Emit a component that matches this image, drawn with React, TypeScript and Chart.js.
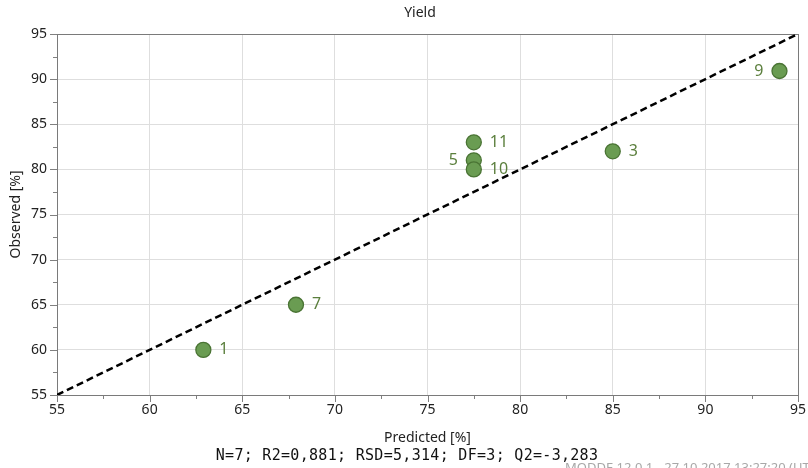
import React, { useEffect, useRef } from "react";
import { Chart, registerables } from "chart.js";

Chart.register(...registerables);

const pointLabels = ["1", "7", "11", "5", "10", "3", "9"];
const predicted = [62.9, 67.9, 77.5, 77.5, 77.5, 85.0, 94.0];
const observed = [60.0, 65.0, 83.0, 81.0, 80.0, 82.0, 90.9];
const labelSide = ["right", "right", "right", "left", "right", "right", "left"];
const refLine = [55, 95];
const axisMin = 55;
const axisMax = 95;
const majorStep = 5;
const titleText = "Yield";
const xTitle = "Predicted [%]";
const yTitle = "Observed [%]";
const footerText = "N=7; R2=0,881; RSD=5,314; DF=3; Q2=-3,283";
const stampText = "MODDE 12.0.1 - 27.10.2017 13:27:20 (UTC+01:00)";

const FONT = "'Noto Sans', 'Open Sans', sans-serif";

const decorPlugin = {
  id: "decor",
  beforeDatasetsDraw(chart: any) {
    const { ctx, chartArea: a, scales } = chart;
    const xs = scales.x;
    const ys = scales.y;
    ctx.save();
    ctx.strokeStyle = "#808080";
    ctx.lineWidth = 1;
    for (let v = axisMin; v <= axisMax + 0.001; v += majorStep / 2) {
      const major = Math.abs(v / majorStep - Math.round(v / majorStep)) < 1e-6;
      const len = major ? 7 : 4;
      const px = Math.round(xs.getPixelForValue(v)) + 0.5;
      ctx.beginPath();
      ctx.moveTo(px, a.bottom);
      ctx.lineTo(px, a.bottom + len);
      ctx.stroke();
      const py = Math.round(ys.getPixelForValue(v)) + 0.5;
      ctx.beginPath();
      ctx.moveTo(a.left, py);
      ctx.lineTo(a.left - len, py);
      ctx.stroke();
    }
    ctx.strokeStyle = "#7a7a7a";
    ctx.strokeRect(Math.round(a.left) + 0.5, Math.round(a.top) + 0.5, Math.round(a.right - a.left), Math.round(a.bottom - a.top));
    ctx.restore();
  },
  afterDraw(chart: any) {
    const { ctx, chartArea: a } = chart;
    const meta = chart.getDatasetMeta(1);
    ctx.save();
    ctx.font = `16px ${FONT}`;
    ctx.fillStyle = "#5b7f3d";
    ctx.textBaseline = "middle";
    meta.data.forEach((el: any, i: number) => {
      if (labelSide[i] === "left") {
        ctx.textAlign = "right";
        ctx.fillText(pointLabels[i], el.x - 16, el.y);
      } else {
        ctx.textAlign = "left";
        ctx.fillText(pointLabels[i], el.x + 16, el.y);
      }
    });
    ctx.fillStyle = "#222";
    ctx.font = `14px ${FONT}`;
    ctx.textAlign = "center";
    ctx.textBaseline = "middle";
    ctx.fillText(titleText, 420, 13);
    ctx.fillText(xTitle, (a.left + a.right) / 2, 438);
    ctx.save();
    ctx.translate(16, (a.top + a.bottom) / 2);
    ctx.rotate(-Math.PI / 2);
    ctx.fillText(yTitle, 0, 0);
    ctx.restore();
    ctx.font = `15px 'DejaVu Sans Mono', monospace`;
    (ctx as any).letterSpacing = "0.3px";
    ctx.fillStyle = "#111";
    ctx.fillText(footerText, 407, 456);
    (ctx as any).letterSpacing = "0px";
    ctx.font = `13px ${FONT}`;
    ctx.fillStyle = "#a8a8a8";
    ctx.textAlign = "left";
    ctx.textBaseline = "top";
    ctx.fillText(stampText, 565, 462);
    ctx.restore();
  },
};

export default function App() {
  const ref = useRef<HTMLCanvasElement | null>(null);
  useEffect(() => {
    if (!ref.current) return;
    const tickFont = { family: FONT, size: 14 };
    const chart = new Chart(ref.current, {
      type: "scatter",
      data: {
        datasets: [
          {
            type: "line",
            data: refLine.map((v) => ({ x: v, y: v })),
            borderColor: "#000",
            borderWidth: 2.5,
            borderDash: [7, 4],
            pointRadius: 0,
            fill: false,
            order: 2,
          } as any,
          {
            data: predicted.map((x, i) => ({ x, y: observed[i] })),
            backgroundColor: "#6a9c52",
            borderColor: "#4a7434",
            borderWidth: 1.3,
            pointRadius: 7.5,
            pointHoverRadius: 7.5,
            order: 1,
          },
        ],
      },
      options: {
        responsive: false,
        animation: false,
        events: [],
        layout: { padding: { top: 34, right: 10, left: 0, bottom: 0 } },
        plugins: { legend: { display: false }, tooltip: { enabled: false }, title: { display: false } },
        scales: {
          x: {
            type: "linear",
            min: axisMin,
            max: axisMax,
            afterFit: (s: any) => { s.height = 73; s.paddingRight = 0; s.paddingLeft = 0; },
            ticks: { stepSize: majorStep, color: "#222", font: tickFont, padding: 7, maxRotation: 0 },
            grid: { color: "#dedede", drawTicks: false },
            border: { display: false },
          },
          y: {
            type: "linear",
            min: axisMin,
            max: axisMax,
            afterFit: (s: any) => { s.width = 57; s.paddingTop = 0; s.paddingBottom = 0; },
            ticks: { stepSize: majorStep, color: "#222", font: tickFont, padding: 10 },
            grid: { color: "#dedede", drawTicks: false },
            border: { display: false },
          },
        },
      },
      plugins: [decorPlugin],
    });
    return () => chart.destroy();
  }, []);
  return (
    <div style={{ position: "fixed", left: 0, top: 0, width: 808, height: 468, background: "#fff" }}>
      <canvas ref={ref} width={808} height={468} style={{ display: "block" }} />
    </div>
  );
}
